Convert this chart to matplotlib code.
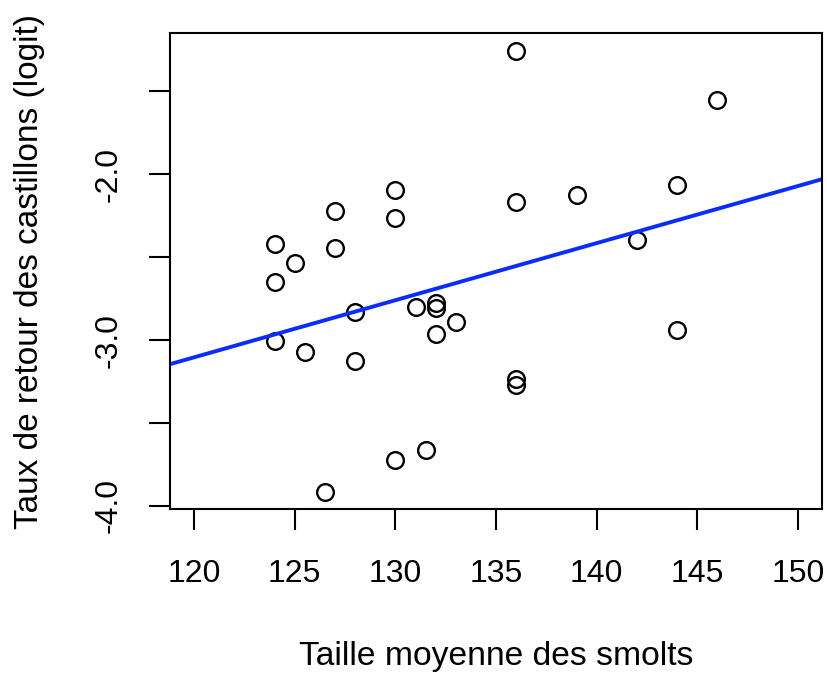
import numpy as np
import matplotlib
matplotlib.use('Agg')
import matplotlib.pyplot as plt

plt.rcParams['font.family'] = ['Liberation Sans', 'DejaVu Sans']

# mean smolt size vs. grilse return rate (logit)
taille = [136, 146, 130, 144, 139, 136, 127, 130, 124, 127, 125, 142,
          124, 128, 131, 132, 132, 133, 132, 144, 124, 125.5, 128, 136,
          136, 131.5, 130, 126.5]
taux = [-1.254, -1.549, -2.095, -2.064, -2.123, -2.165, -2.223, -2.266,
        -2.421, -2.447, -2.535, -2.394, -2.648, -2.833, -2.799, -2.779,
        -2.809, -2.889, -2.966, -2.940, -3.006, -3.070, -3.127, -3.235,
        -3.272, -3.660, -3.724, -3.915]

xticks = [120, 125, 130, 135, 140, 145, 150]
yticks = [-4.0, -3.5, -3.0, -2.5, -2.0, -1.5]
ylabels = ['-4.0', '', '-3.0', '', '-2.0', '']

x = np.array(taille)
y = np.array(taux)
b, a = np.polyfit(x, y, 1)

fig = plt.figure(figsize=(8.27, 6.74), dpi=100)
ax = fig.add_axes([0.2056, 0.2441, 0.994 - 0.2056, 0.951 - 0.2441])

ax.plot(x, y, 'o', mfc='none', mec='black', ms=12, mew=1.7)

xlim = (118.8, 151.2)
xx = np.array(xlim)
ax.plot(xx, a + b * xx, color='#0a2cff', lw=2.8)

ax.set_xlim(xlim)
rng = y.max() - y.min()
ax.set_ylim(y.min() - 0.04 * rng, y.max() + 0.04 * rng)

for s in ax.spines.values():
    s.set_linewidth(1.5)

ax.set_xticks(xticks)
ax.set_yticks(yticks)
ax.set_yticklabels(ylabels, rotation=90, va='center')
ax.tick_params(axis='x', length=15, width=1.5, pad=21, labelsize=23)
ax.tick_params(axis='y', length=15, width=1.5, pad=18.5, labelsize=23)

ax.set_xlabel('Taille moyenne des smolts', fontsize=24.2)
ax.set_ylabel('Taux de retour des castillons (logit)', fontsize=24)
ax.xaxis.set_label_coords(0.5, -0.275)
ax.yaxis.set_label_coords(-0.191, 0.5)

fig.savefig('out.png', dpi=100)
